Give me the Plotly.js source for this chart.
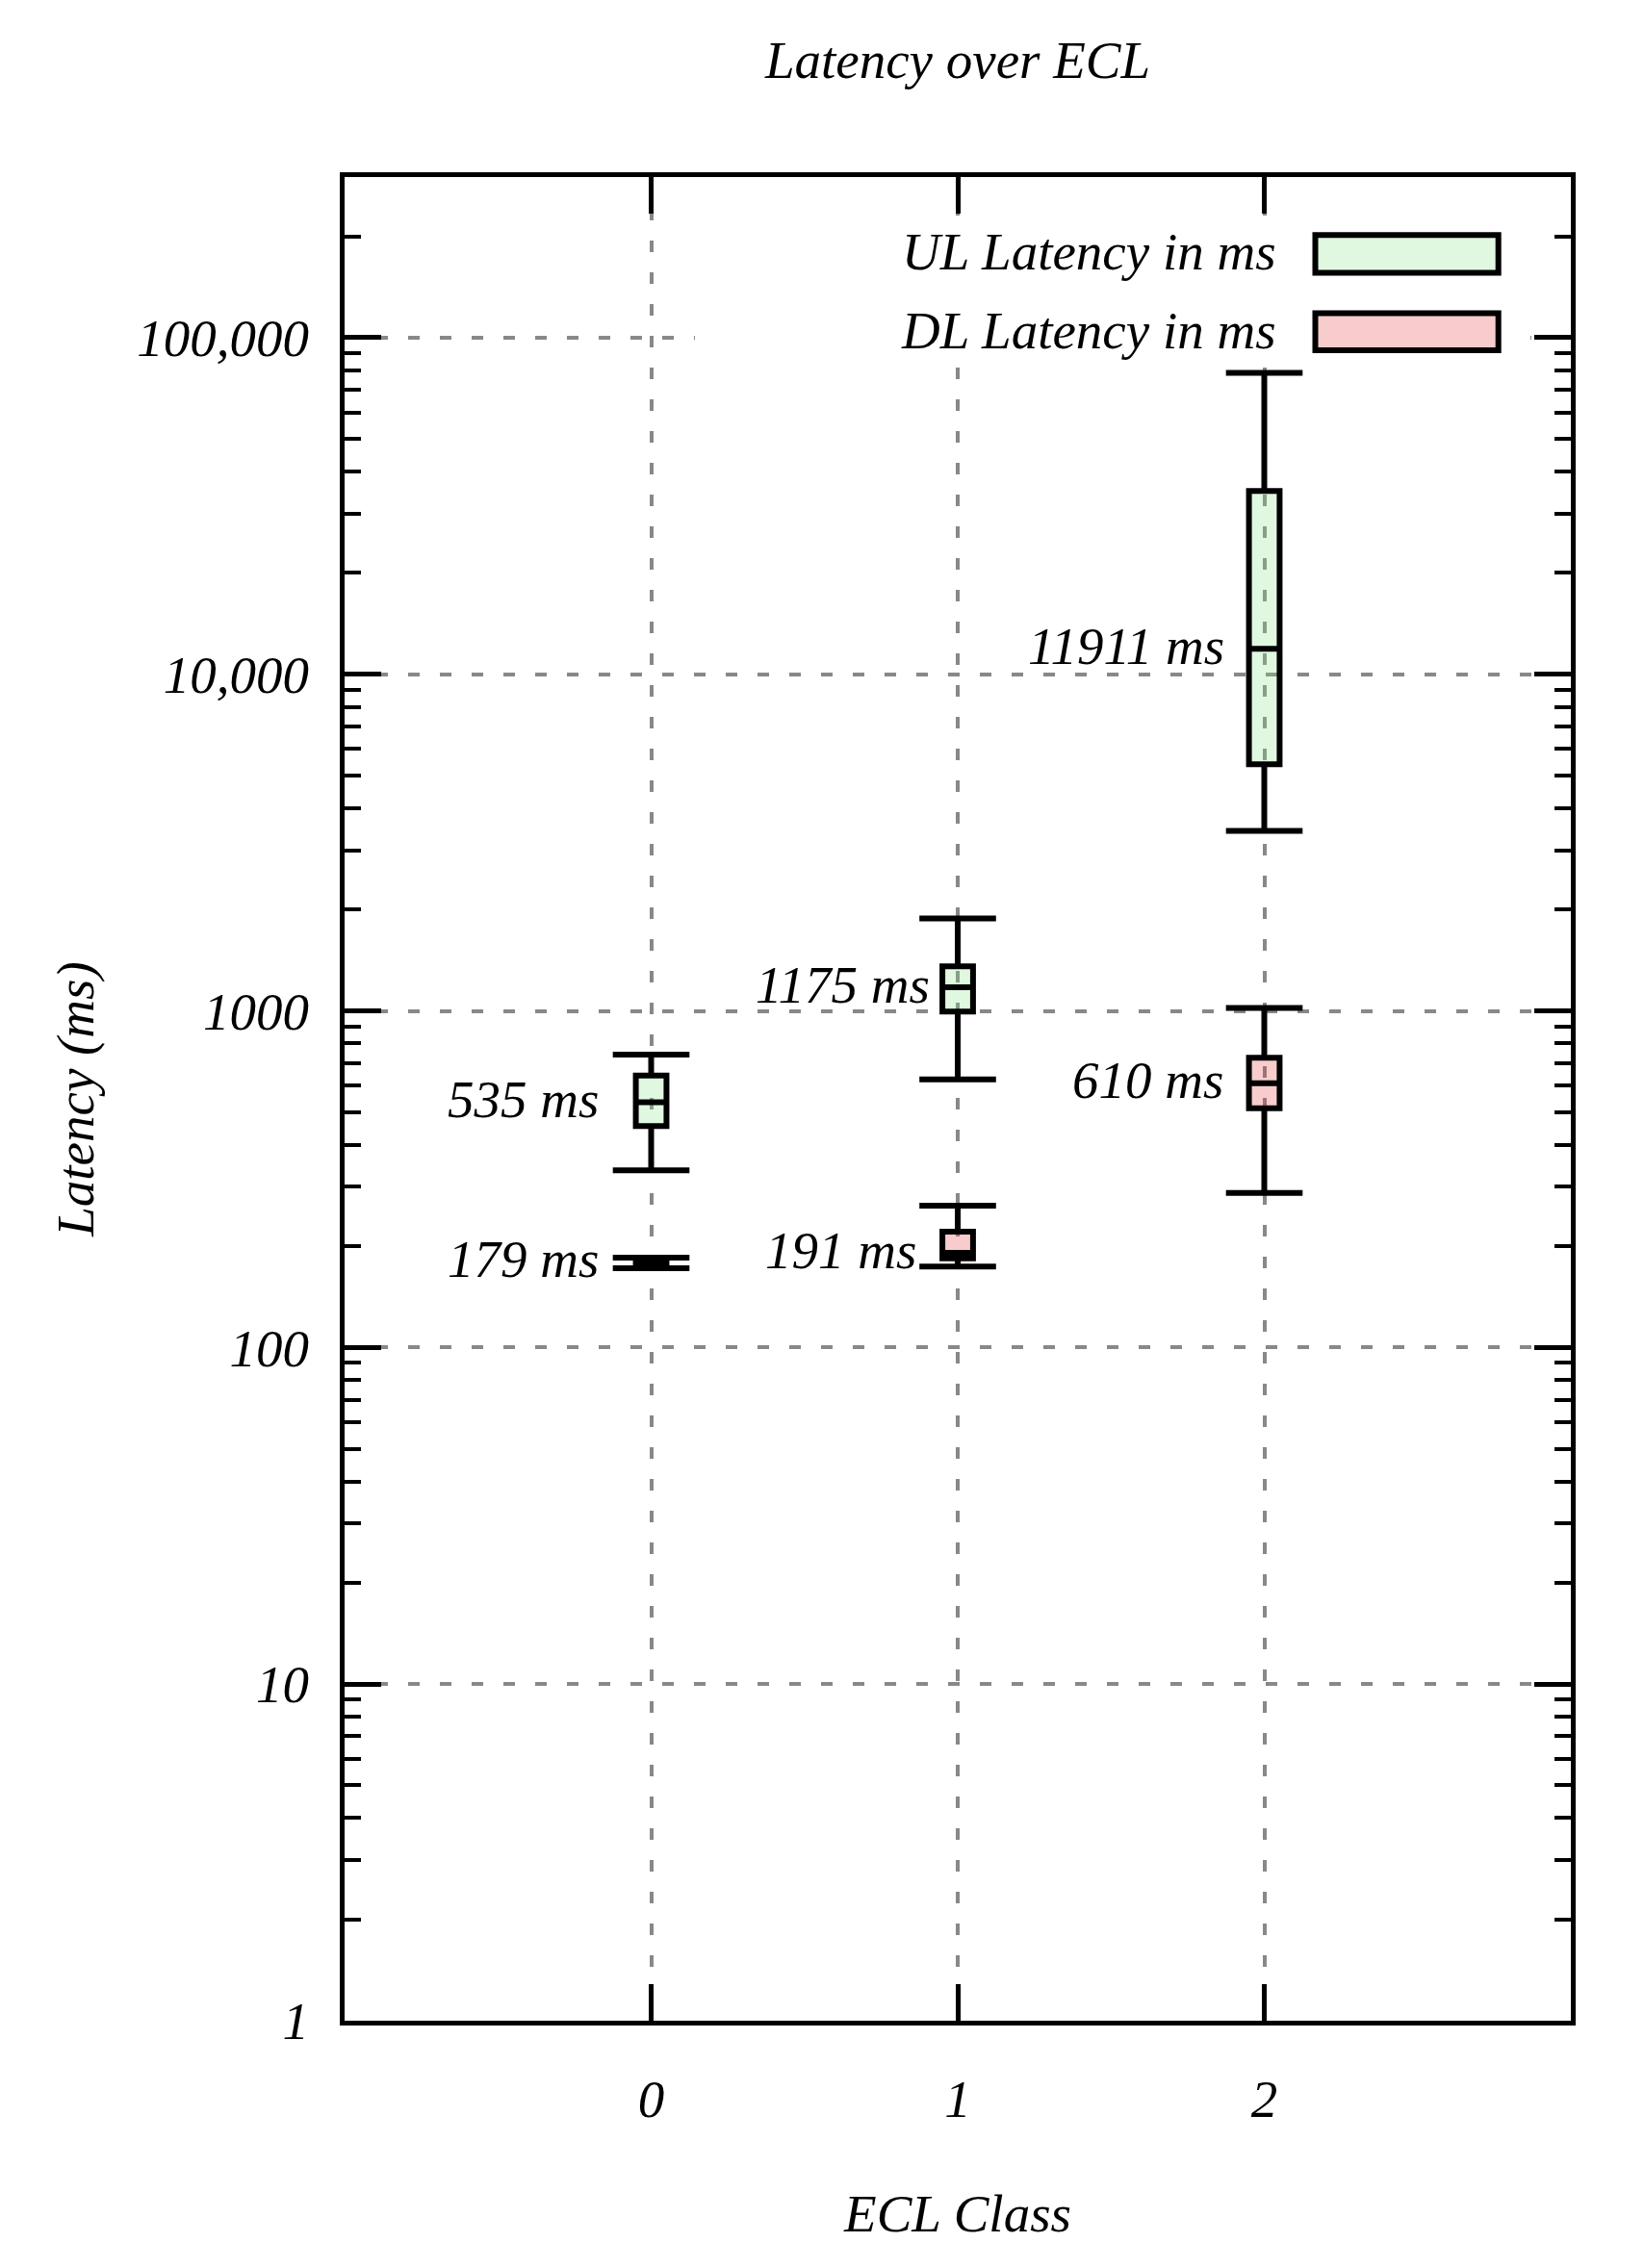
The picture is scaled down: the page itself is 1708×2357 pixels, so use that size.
<!DOCTYPE html>
<html>
<head>
<meta charset="utf-8">
<script src="https://cdn.plot.ly/plotly-3.0.1.min.js"></script>
<style>html,body{margin:0;padding:0;background:#fff;}</style>
</head>
<body>
<div id="chart" style="width:1708px;height:2357px;"></div>
<script>
// ---- data ----
const eclClasses = [0, 1, 2];
const xTickText = ['0', '1', '2'];

const ulLower  = [336, 626, 3427];
const ulQ1     = [455, 996, 5406];
const ulMedian = [535, 1175, 11911];
const ulQ3     = [643, 1357, 35050];
const ulUpper  = [742, 1883, 78640];

const dlLower  = [172, 174, 288];
const dlQ1     = [173, 184, 514];
const dlMedian = [179, 191, 610];
const dlQ3     = [184, 221, 726];
const dlUpper  = [185, 264, 1021];

const yTickVals = [1, 10, 100, 1000, 10000, 100000];
const yTickText = ['1', '10', '100', '1000', '10,000', '100,000'];

const seriesNames = ['UL Latency in ms', 'DL Latency in ms'];

// ---- styles ----
const FONT = {family: 'Liberation Serif, Times New Roman, serif', style: 'italic', size: 55, color: '#000'};
const ulFill = 'rgba(131,227,131,0.25)';
const dlFill = 'rgba(227,51,51,0.25)';
const ulLabelShift = [-53, -27, -40];
const dlLabelShift = [-53, -41, -41];

function boxTrace(name, q1, med, q3, lo, hi, fill) {
  return {
    type: 'box', name: name, x: eclClasses,
    q1: q1, median: med, q3: q3, lowerfence: lo, upperfence: hi,
    width: 0.1, whiskerwidth: 0, boxpoints: false,
    fillcolor: fill, line: {color: '#000', width: 6},
    hoverinfo: 'skip', showlegend: false
  };
}
function capTrace(lo, hi) {
  return {
    type: 'scatter', mode: 'markers',
    x: eclClasses.concat(eclClasses), y: hi.concat(lo),
    marker: {size: 2, color: 'rgba(0,0,0,0)'},
    error_x: {type: 'constant', value: 0.125, width: 0, thickness: 6, color: '#000'},
    hoverinfo: 'skip', showlegend: false
  };
}

const traces = [
  boxTrace(seriesNames[0], ulQ1, ulMedian, ulQ3, ulLower, ulUpper, ulFill),
  boxTrace(seriesNames[1], dlQ1, dlMedian, dlQ3, dlLower, dlUpper, dlFill),
  capTrace(ulLower, ulUpper),
  capTrace(dlLower, dlUpper)
];

// minor ticks 2..9 per decade
const minorVals = [];
for (let d = 1; d <= 100000; d *= 10) {
  for (let k = 2; k <= 9; k++) { if (k * d < 300000) minorVals.push(k * d); }
}

const annotations = [];
function addMedianLabels(med, shifts) {
  med.forEach((v, i) => {
    annotations.push({
      x: eclClasses[i], y: Math.log10(v), xref: 'x', yref: 'y',
      text: v + ' ms', showarrow: false, xanchor: 'right', yanchor: 'middle',
      xshift: shifts[i], yshift: 3, font: FONT
    });
  });
}
addMedianLabels(ulMedian, ulLabelShift);
addMedianLabels(dlMedian, dlLabelShift);

// custom legend (text left, key right)
const legendY = [0.9593, 0.9165];
const legendKeyY = [[0.9481, 0.9685], [0.9061, 0.9262]];
const legendFills = [ulFill, dlFill];
seriesNames.forEach((n, i) => {
  annotations.push({
    x: 0.7614, y: legendY[i], xref: 'paper', yref: 'paper',
    text: n, showarrow: false, xanchor: 'right', yanchor: 'middle', font: FONT
  });
});

// legend background (hides grid behind the key, keeps frame ticks visible)
const shapes = [
  {type: 'rect', xref: 'paper', yref: 'paper', x0: 0.2857, x1: 0.967, y0: 0.8967, y1: 0.9791,
   fillcolor: '#fff', line: {width: 0}, layer: 'above'}
];
seriesNames.forEach((n, i) => {
  shapes.push({type: 'rect', xref: 'paper', yref: 'paper',
    x0: 0.7916, x1: 0.9409, y0: legendKeyY[i][0], y1: legendKeyY[i][1],
    fillcolor: legendFills[i], line: {color: '#000', width: 6}, layer: 'above'});
});

const axisCommon = {
  showline: true, linewidth: 5, linecolor: '#000', mirror: 'ticks',
  ticks: 'inside', ticklen: 38, tickwidth: 5, tickcolor: '#000',
  showgrid: true, gridcolor: '#888888', gridwidth: 4, griddash: '12px,21px',
  zeroline: false, tickfont: FONT
};

const layout = {
  width: 1708, height: 2357,
  margin: {l: 358, r: 76, t: 184, b: 257},
  paper_bgcolor: '#fff', plot_bgcolor: '#fff',
  font: FONT, showlegend: false, boxmode: 'overlay',
  title: {text: 'Latency over ECL', font: FONT, x: 0.5, xref: 'paper', xanchor: 'center',
          y: 1 - 62 / 2357, yref: 'container', yanchor: 'middle'},
  xaxis: Object.assign({}, axisCommon, {
    range: [-1, 3], tickmode: 'array', tickvals: eclClasses, ticktext: xTickText,
    ticklabelstandoff: 29,
    title: {text: 'ECL Class', font: FONT, standoff: 71}
  }),
  yaxis: Object.assign({}, axisCommon, {
    type: 'log', range: [0, Math.log10(300000)],
    tickmode: 'array', tickvals: yTickVals, ticktext: yTickText,
    ticklabelstandoff: 21,
    minor: {ticks: 'inside', ticklen: 17, tickwidth: 4, tickcolor: '#000',
            tickmode: 'array', tickvals: minorVals, showgrid: false},
    title: {text: 'Latency (ms)', font: FONT, standoff: 29}
  }),
  annotations: annotations,
  shapes: shapes
};

Plotly.newPlot('chart', traces, layout, {staticPlot: true, displayModeBar: false});
</script>
</body>
</html>
